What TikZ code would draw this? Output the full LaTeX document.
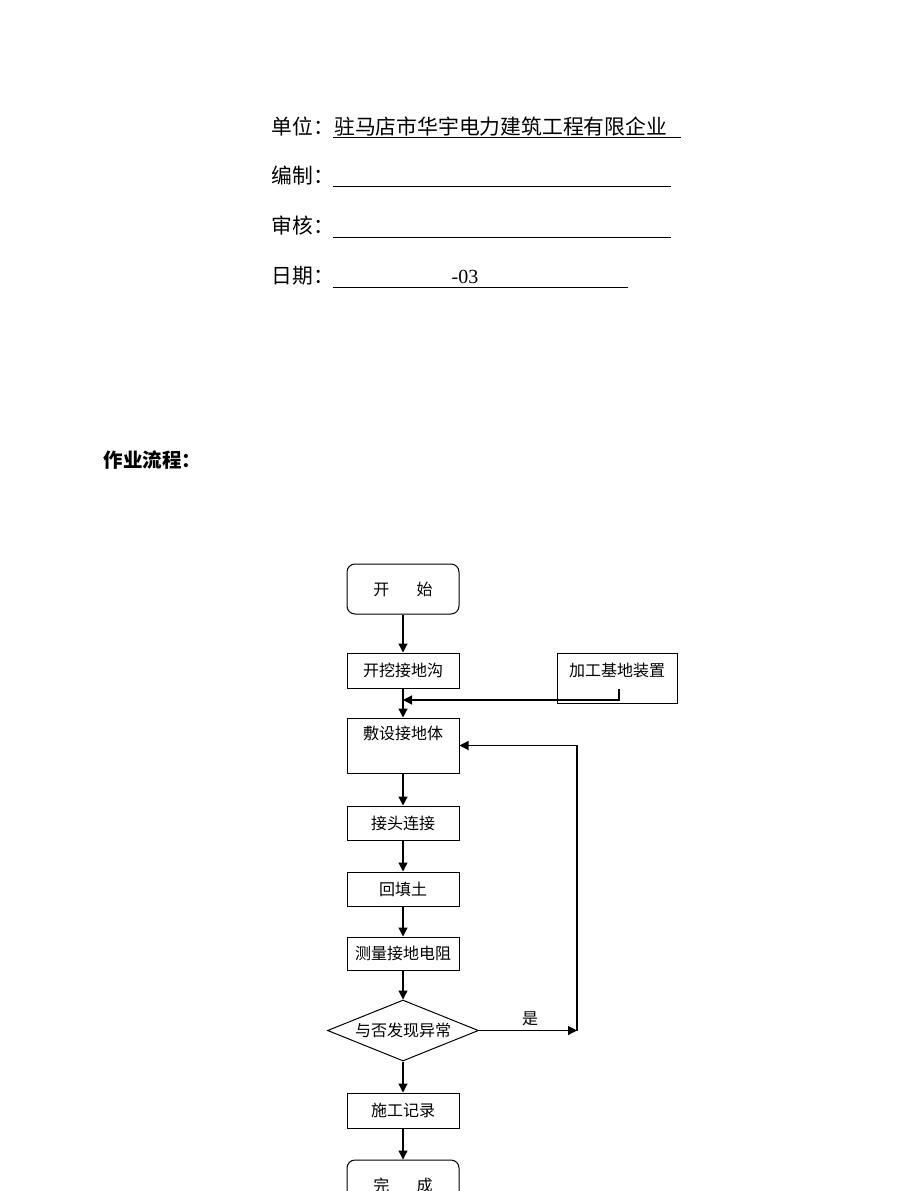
\documentclass[tikz,border=0pt]{standalone}
\usepackage{fontspec}
\setmainfont{Liberation Serif}
\newfontfamily\cjk{Noto Sans CJK SC}
\usetikzlibrary{shapes.geometric,arrows.meta,positioning}
\newcommand{\hd}{\cjk\fontsize{20.8}{24}\selectfont}
\newcommand{\fl}{\cjk\fontsize{16}{18}\selectfont}

\begin{document}
\begin{tikzpicture}[x=1pt,y=-1pt]
                        \tikzstyle{box}=[draw,line width=1pt,minimum width=112pt,inner sep=0pt,font=\fl]
                        \tikzstyle{endbox}=[box,rounded corners=8pt,minimum height=50pt]
                        \tikzstyle{ask}=[draw,line width=1pt,diamond,aspect=2.5,minimum width=151pt,minimum height=61pt,inner sep=0pt,font=\fl]
                        \tikzstyle{arr}=[line width=1.2pt,-{Triangle[length=9pt,width=9pt]}]
                        \tikzstyle{blank}=[draw,line width=0.9pt]
                        \useasboundingbox (0,0) rectangle (920,1191);
                        \node[anchor=west,font=\hd] (unit) at (268,127) {单位：};
                        \node[anchor=west,font=\hd,inner sep=0pt] (firm) at (334,127) {驻马店市华宇电力建筑工程有限企业};
                        \node[anchor=west,font=\hd] (made) at (268,176) {编制：};
                        \node[anchor=west,font=\hd] (audit) at (268,226) {审核：};
                        \node[anchor=west,font=\hd] (date) at (268,276) {日期：};
                        \node[font=\fontsize{20}{22}\selectfont] (month) at (465,277) {-03};
                        \draw[blank] (333,137) -- (681,137);
                        \draw[blank] (333,186) -- (671,186);
                        \draw[blank] (333,237) -- (671,237);
                        \draw[blank] (333,287) -- (628,287);
                        \node[anchor=west,font=\cjk\bfseries\fontsize{19.5}{22}\selectfont] (flow) at (100,460) {作业流程：};
                        \node[endbox] (start) at (403,589) {开\hspace{1.7em}始};
                        \node[box,minimum height=35pt] (dig) at (403,670.5) {开挖接地沟};
                        \node[box,minimum width=120pt,minimum height=50pt,text height=12pt,text depth=16pt] (make) at (617,678) {加工基地装置};
                        \node[box,minimum height=55pt,text height=12pt,text depth=25pt] (lay) at (403,745.5) {敷设接地体};
                        \node[box,minimum height=34pt] (joint) at (403,823) {接头连接};
                        \node[box,minimum height=34pt] (fill) at (403,889) {回填土};
                        \node[box,minimum height=33pt] (meas) at (403,953.5) {测量接地电阻};
                        \node[ask] (check) at (403,1030.5) {与否发现异常};
                        \node[box,minimum height=35pt] (rec) at (403,1110.5) {施工记录};
                        \node[endbox] (done) at (403,1185) {完\hspace{1.7em}成};
                        \coordinate (mkout) at (619,689);
                        \coordinate (join) at (403,700);
                        \coordinate (back) at (577,1030.5);
                        \draw[arr] (start) -- (dig);
                        \draw[arr] (dig) -- (lay);
                        \draw[arr] (mkout) |- (join);
                        \draw[arr] (lay) -- (joint);
                        \draw[arr] (joint) -- (fill);
                        \draw[arr] (fill) -- (meas);
                        \draw[arr] (meas) -- (check);
                        \draw[arr] (check) -- (rec);
                        \draw[arr] (rec) -- (done);
                        \draw[arr] (check.east) -- (back);
                        \draw[arr] (back) |- (lay.east);
                        \node[font=\fl] (yes) at (530,1019) {是};
                    \end{tikzpicture}
\end{document}
